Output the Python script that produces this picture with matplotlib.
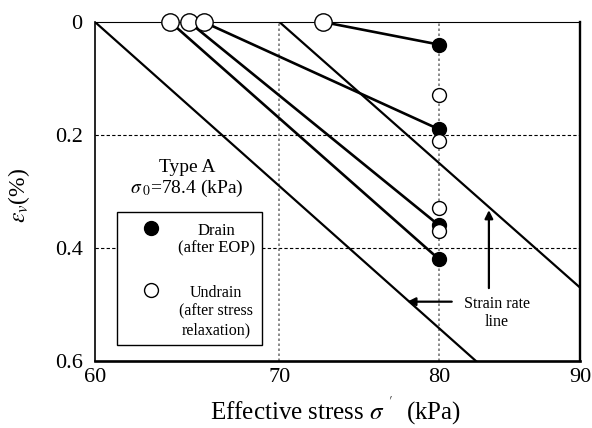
import numpy as np
import matplotlib
matplotlib.use("Agg")
import matplotlib.pyplot as plt
from matplotlib.patches import Rectangle
from matplotlib.ticker import FixedLocator, NullLocator, FixedFormatter

plt.rcParams['font.family'] = ['Liberation Serif', 'DejaVu Serif']
plt.rcParams['mathtext.fontset'] = 'stix'

# undrained start points (after stress relaxation, eps = 0)
start_stress = [63.9, 64.9, 65.7, 72.6]
start_strain = [0.0, 0.0, 0.0, 0.0]
# drained end points at 80 kPa (after EOP), paired with start points
drain_stress = [80, 80, 80, 80]
drain_strain = [0.42, 0.36, 0.19, 0.04]
# undrained points at 80 kPa
undrain_stress = [80, 80, 80, 80]
undrain_strain = [0.13, 0.21, 0.33, 0.37]
# strain rate lines (two end points each)
rate_lines = [([60, 82.5], [0.0, 0.6]),
              ([70, 90], [0.0, 0.47])]

xticks = [60, 70, 80, 90]
yticks = [0, 0.2, 0.4, 0.6]
yticklabels = ['0', '0.2', '0.4', '0.6']

fig = plt.figure(figsize=(5.92, 4.28), dpi=100)
ax = fig.add_axes([95/592, 1-361/428, 485/592, 339/428])

ax.set_xscale('log')
ax.set_xlim(60, 90)
ax.set_ylim(0.6, 0)

# grid
for y in [0.2, 0.4]:
    ax.axhline(y, color='k', lw=0.8, dashes=(3, 2), zorder=1)
for x in [70, 80]:
    ax.axvline(x, color='#777777', lw=1.2, ls=(0, (1.5, 1.5)), zorder=1)

for xs, ys in rate_lines:
    ax.plot(xs, ys, color='k', lw=1.6, zorder=2)

for i in range(len(start_stress)):
    ax.plot([start_stress[i], drain_stress[i]], [start_strain[i], drain_strain[i]],
            color='k', lw=1.9, zorder=3)

ax.plot(drain_stress, drain_strain, 'o', ms=10, color='k', zorder=4, clip_on=False)
ax.plot(undrain_stress, undrain_strain, 'o', ms=10, mfc='white', mec='k', mew=1,
        zorder=5, clip_on=False)
ax.plot(start_stress, start_strain, 'o', ms=12.5, mfc='white', mec='k', mew=1,
        zorder=5, clip_on=False)

# legend box drawn by hand
ax.add_patch(Rectangle((0.045, 0.047), 0.299, 0.393, transform=ax.transAxes,
                       facecolor='white', edgecolor='k', lw=1, zorder=6))
ax.plot([0.115], [0.392], 'o', ms=10, color='k', transform=ax.transAxes, zorder=7)
ax.plot([0.115], [0.209], 'o', ms=10, mfc='white', mec='k', mew=1,
        transform=ax.transAxes, zorder=7)
ax.text(0.25, 0.357, 'Drain\n(after EOP)', transform=ax.transAxes, ha='center',
        va='center', fontsize=12, linespacing=1.15, zorder=7)
ax.text(0.25, 0.145, 'Undrain\n(after stress\nrelaxation)', transform=ax.transAxes,
        ha='center', va='center', fontsize=11.5, linespacing=1.2, zorder=7)

ax.text(0.19, 0.572, 'Type A', transform=ax.transAxes, ha='center', va='center',
        fontsize=14)
ax.text(0.19, 0.51, r'$\sigma_{\;0}$=78.4 (kPa)', transform=ax.transAxes,
        ha='center', va='center', fontsize=14)

# strain rate line arrows
arw = dict(arrowstyle='-|>', color='k', lw=1.6, mutation_scale=12, shrinkA=0, shrinkB=0)
ax.annotate('', xy=(77.9, 0.495), xytext=(80.85, 0.495), arrowprops=arw, zorder=6)
ax.annotate('', xy=(83.4, 0.333), xytext=(83.4, 0.471), arrowprops=arw, zorder=6)
ax.text(0.829, 0.142, 'Strain rate\nline', transform=ax.transAxes, ha='center',
        va='center', fontsize=11.5, linespacing=1.2)

# axes styling
ax.xaxis.set_major_locator(FixedLocator(xticks))
ax.xaxis.set_minor_locator(NullLocator())
ax.xaxis.set_major_formatter(FixedFormatter([str(v) for v in xticks]))
ax.set_yticks(yticks)
ax.set_yticklabels(yticklabels)
ax.tick_params(length=0, labelsize=16)
ax.tick_params(axis='x', pad=5)
ax.tick_params(axis='y', pad=9)

ax.spines['top'].set_linewidth(0.8)
ax.spines['left'].set_linewidth(1.2)
ax.spines['right'].set_linewidth(1.7)
ax.spines['bottom'].set_linewidth(1.9)

ax.set_xlabel(r"Effective stress $\sigma^{\ '}$  (kPa)", fontsize=18)
ax.xaxis.set_label_coords(0.497, -0.1)
ax.set_ylabel(r'$\varepsilon_{v}$(%)', fontsize=17)
ax.yaxis.set_label_coords(-0.13, 0.49)

fig.savefig('out.png', dpi=100)
